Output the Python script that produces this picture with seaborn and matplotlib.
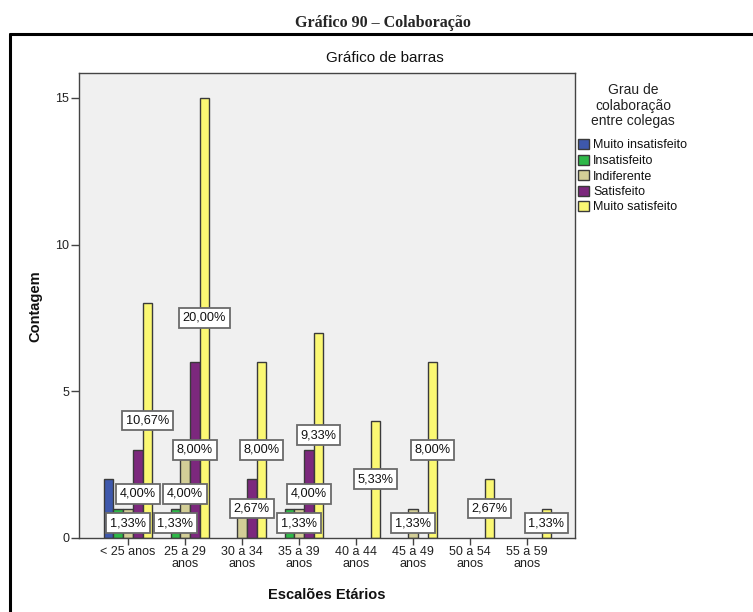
import matplotlib
matplotlib.use("Agg")
import matplotlib.pyplot as plt
from matplotlib.patches import Patch
from matplotlib.lines import Line2D
import seaborn as sns
import pandas as pd

# Age brackets (x axis) and satisfaction levels (hue)
escaloes = ["< 25 anos", "25 a 29\nanos", "30 a 34\nanos", "35 a 39\nanos",
            "40 a 44\nanos", "45 a 49\nanos", "50 a 54\nanos", "55 a 59\nanos"]
niveis = ["Muito insatisfeito", "Insatisfeito", "Indiferente", "Satisfeito",
          "Muito satisfeito"]

# Counts per level, one value per age bracket
muito_insatisfeito = [2, 0, 0, 0, 0, 0, 0, 0]
insatisfeito       = [1, 1, 0, 1, 0, 0, 0, 0]
indiferente        = [1, 3, 1, 1, 0, 1, 0, 0]
satisfeito         = [3, 6, 2, 3, 0, 0, 0, 0]
muito_satisfeito   = [8, 15, 6, 7, 4, 6, 2, 1]

cores = ["#3E58AC", "#2EB848", "#D3CE97", "#7C287D", "#FBF873"]

series = [muito_insatisfeito, insatisfeito, indiferente, satisfeito, muito_satisfeito]
rows = []
for nivel, vals in zip(niveis, series):
    for esc, v in zip(escaloes, vals):
        rows.append({"Escalão": esc, "Grau": nivel, "Contagem": v})
df = pd.DataFrame(rows)
total = df["Contagem"].sum()

sns.set_theme(style="ticks")
plt.rcParams["font.family"] = ["Liberation Sans", "DejaVu Sans"]

fig = plt.figure(figsize=(7.53, 6.12), dpi=100)
ax = fig.add_axes([79 / 753, 1 - 538 / 612, (575 - 79) / 753, (538 - 73) / 612])
ax.set_facecolor("#F0F0F0")

sns.barplot(data=df, x="Escalão", y="Contagem", hue="Grau", order=escaloes,
            hue_order=niveis, palette=cores, width=0.85, edgecolor="#3a3a3a",
            linewidth=1.0, saturation=1.0, legend=False, ax=ax)

ax.set_xlim(-0.86, 7.84)
ax.set_ylim(0, 15.85)
ax.set_yticks([0, 5, 10, 15])
ax.set_xlabel("")
ax.set_ylabel("")
for s in ax.spines.values():
    s.set_color("#444444")
    s.set_linewidth(1.0)
ax.tick_params(axis="y", length=6, width=1, color="#444444", labelsize=9,
               labelcolor="#222222", pad=1)
ax.tick_params(axis="x", length=5, width=1, color="#444444", labelsize=9,
               labelcolor="#222222", pad=1)
for lab in ax.get_xticklabels():
    lab.set_linespacing(0.95)

# Percentage labels at mid-height of each bar
labels = []
for ci, cont in enumerate(ax.containers):
    for bi, bar in enumerate(cont):
        h = bar.get_height()
        if h <= 0:
            bar.set_visible(False)
            continue
        pct = f"{h / total * 100:.2f}".replace(".", ",") + "%"
        t = ax.text(bar.get_x() + bar.get_width() / 2, h / 2, pct,
                    ha="center", va="center", fontsize=9.2, color="#111111",
                    bbox=dict(boxstyle="square,pad=0.3", fc="white",
                              ec="#6a6a6a", lw=1.3), zorder=5)
        labels.append((bi, -ci, t))

# Hide labels that would overlap ones already placed (last level first)
fig.canvas.draw()
renderer = fig.canvas.get_renderer()
placed = []
for bi, negci, t in sorted(labels, key=lambda r: (r[0], r[1])):
    bb = t.get_bbox_patch().get_window_extent(renderer)
    if any(bb.overlaps(p) for p in placed):
        t.set_visible(False)
    else:
        placed.append(bb)

# Legend title and entries
fig.text(633 / 753, 1 - 105.5 / 612, "Grau de\ncolaboração\nentre colegas",
         ha="center", va="center", multialignment="center", fontsize=10,
         linespacing=1.12, color="#222222")
handles = [Patch(facecolor=c, edgecolor="#3a3a3a", linewidth=1.0) for c in cores]
leg = ax.legend(handles, niveis, loc="upper left",
                bbox_to_anchor=(578 / 753, 1 - 139 / 612),
                bbox_transform=fig.transFigure, frameon=False, fontsize=9,
                handlelength=0.9, handleheight=0.9, handletextpad=0.3,
                labelspacing=0.24, borderpad=0, borderaxespad=0)
for txt in leg.get_texts():
    txt.set_color("#111111")

# Titles and axis labels
fig.text(383 / 753, 1 - 27 / 612, "Gráfico 90 – Colaboração", ha="center",
         va="baseline", fontsize=11.5, fontweight="bold",
         family=["Liberation Serif", "DejaVu Serif"])
fig.text(385 / 753, 1 - 58 / 612, "Gráfico de barras", ha="center",
         va="center", fontsize=11, color="#111111")
fig.text(35 / 753, 1 - 306 / 612, "Contagem", ha="center", va="center",
         rotation=90, fontsize=10.5, fontweight="bold", color="#111111")
fig.text(327 / 753, 1 - 595 / 612, "Escalões Etários", ha="center",
         va="center", fontsize=10.5, fontweight="bold", color="#111111")

# Outer frame
fig.add_artist(Line2D([10 / 753, 10 / 753], [0, 1 - 34 / 612],
                      transform=fig.transFigure, color="black", lw=2.2))
fig.add_artist(Line2D([10 / 753, 1], [1 - 34 / 612, 1 - 34 / 612],
                      transform=fig.transFigure, color="black", lw=2.2))

fig.savefig("out.png", dpi=100, facecolor="white")
